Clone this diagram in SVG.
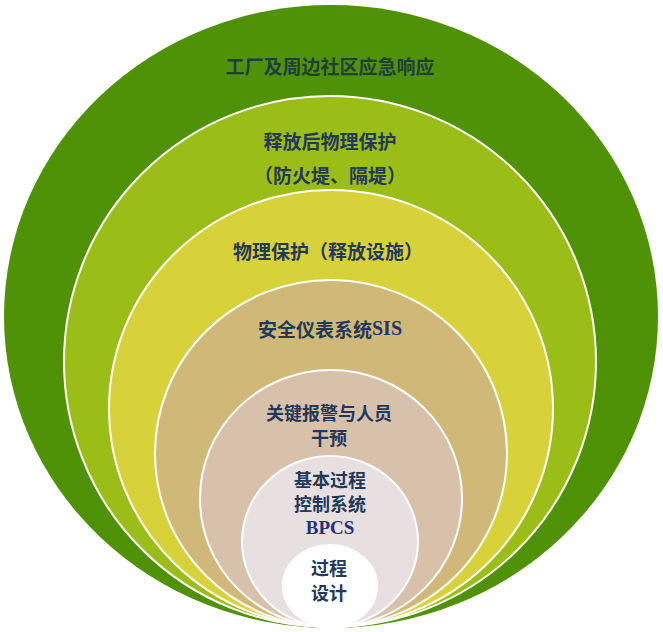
<svg xmlns="http://www.w3.org/2000/svg" width="663" height="632" viewBox="0 0 663 632">
<style>
.ring{stroke:#ffffff;stroke-width:2}
.t{font-family:"Noto Sans CJK SC","Liberation Serif",sans-serif;font-size:19px;font-weight:bold;text-anchor:middle;dominant-baseline:central;fill:#24385a}
.s{font-size:18px}
.lat{font-family:"Liberation Serif","Noto Sans CJK SC",serif;font-size:20px;font-weight:bold;fill:#223272}
</style>
<rect width="663" height="632" fill="#ffffff"/>
<g id="layer1">
<ellipse cx="331" cy="316.5" rx="327" ry="311.5" fill="#4f9207"/>
<text class="t" x="330" y="65" style="fill:#1f3f3c">工厂及周边社区应急响应</text>
</g>
<g id="layer2">
<ellipse class="ring" cx="330" cy="361.5" rx="266" ry="265.5" fill="#9bbd17"/>
<text class="t" x="330" y="140.5">释放后物理保护<tspan x="330" dy="33.5">（防火堤、隔堤）</tspan></text>
</g>
<g id="layer3">
<ellipse class="ring" cx="331" cy="408.5" rx="222" ry="218.5" fill="#d8d23a"/>
<text class="t" x="328" y="250">物理保护（释放设施）</text>
</g>
<g id="layer4">
<ellipse class="ring" cx="331" cy="453.5" rx="176" ry="173.5" fill="#cfb878"/>
<text class="t" x="330" y="328">安全仪表系统<tspan class="lat">SIS</tspan></text>
</g>
<g id="layer5">
<ellipse class="ring" cx="331" cy="498.5" rx="131" ry="128.5" fill="#d8c1aa"/>
<text class="t s" x="329" y="412">关键报警与人员<tspan x="329" dy="25">干预</tspan></text>
</g>
<g id="layer6">
<ellipse class="ring" cx="330" cy="541.5" rx="88" ry="85.5" fill="#e8e0e0"/>
<text class="t s" x="330" y="479">基本过程<tspan x="330" dy="24">控制系统</tspan><tspan class="lat" style="font-size:19px" x="330" dy="24">BPCS</tspan></text>
</g>
<g id="layer7">
<ellipse class="ring" cx="330" cy="586" rx="47" ry="41" fill="#ffffff"/>
<text class="t s" x="329" y="567">过程<tspan x="329" dy="25">设计</tspan></text>
</g>
<g id="connectors"></g>
</svg>
